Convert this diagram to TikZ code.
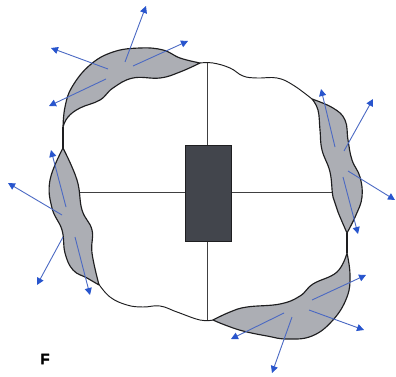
\documentclass[tikz,border=0pt]{standalone}
\usepackage{fontspec}
\setmainfont{Liberation Sans}
\newfontfamily\tagfont[FakeBold=2,BoldFont={Liberation Sans Bold}]{Liberation Sans}
\usetikzlibrary{arrows.meta}
\definecolor{lens}{RGB}{172,174,180}
\definecolor{core}{RGB}{66,69,76}
\definecolor{arrowblue}{RGB}{75,105,195}
\definecolor{tipblue}{RGB}{40,85,205}
\definecolor{edge}{RGB}{30,30,32}
\tikzset{
  x=1pt,y=-1pt,
  outline/.style={draw=edge,line width=0.95pt,line join=round},
  lensshape/.style={draw=edge,line width=1.15pt,line join=round,fill=lens},
  spoke/.style={draw=edge!85,line width=0.9pt},
  flow/.style={draw=arrowblue,line width=0.9pt,-{Triangle[length=7pt,width=7pt,color=tipblue]}},
  corebox/.style={draw=edge,line width=0.9pt,fill=core,minimum width=46pt,minimum height=96pt,inner sep=0pt},
  label/.style={font=\tagfont\fontsize{15}{15}\selectfont,text=black,inner sep=0pt}
}
\begin{document}
\begin{tikzpicture}
\useasboundingbox (0,0) rectangle (396,377);
% white body outline segments
\draw[outline] plot[smooth,tension=0.7] coordinates {(200,63) (213,63) (230,68) (243,76) (257,78) (277,78) (293,85) (312,99)};
\draw[outline] plot[smooth,tension=0.7] coordinates {(98,283) (110,297) (127,305) (143,307) (160,306) (177,312) (200,320) (213,320)};
\draw[lensshape] (63,127) -- (63,148);
\draw[lensshape] (347,233) -- (347,253);
% spokes
\draw[spoke] (207.5,63) -- (207.5,145);
\draw[spoke] (207.5,241) -- (207.5,320);
\draw[spoke] (78,192.5) -- (185,192.5);
\draw[spoke] (231,192.5) -- (333,192.5);
% lenses
\draw[lensshape] plot[smooth,tension=0.7] coordinates {(63,127) (65,107) (72,87) (90,65) (113,52) (140,48) (163,50) (180,58) (200,63)}
  -- plot[smooth,tension=0.7] coordinates {(200,63) (180,72) (160,78) (133,78) (113,88) (100,100) (80,108) (68,117) (63,127)} -- cycle;
\draw[lensshape] plot[smooth,tension=0.7] coordinates {(63,148) (50,180) (52,208) (62,230) (65,253) (73,270) (87,278) (99,285)}
  -- plot[smooth,tension=0.7] coordinates {(99,285) (92,253) (92,230) (82,210) (77,180) (63,148)} -- cycle;
\draw[lensshape] plot[smooth,tension=0.7] coordinates {(312,99) (333,108) (345,120) (348,140) (352,160) (360,177) (362,197) (356,215) (347,233)}
  -- plot[smooth,tension=0.7] coordinates {(347,233) (338,212) (333,197) (330,172) (322,150) (320,130) (318,110) (312,99)} -- cycle;
\draw[lensshape] plot[smooth,tension=0.7] coordinates {(347,253) (350,275) (347,297) (333,320) (312,336) (287,339) (267,336) (243,331) (225,325) (213,320)}
  -- plot[smooth,tension=0.7] coordinates {(213,320) (230,312) (247,307) (280,304) (300,296) (313,284) (337,272) (347,253)} -- cycle;
% core
\node[corebox,anchor=north west] (box) at (185,145) {};
% arrows
\coordinate (a1) at (125,62); \coordinate (a2) at (146,6);
\coordinate (b1) at (108,69); \coordinate (b2) at (51,48);
\coordinate (c1) at (133,66); \coordinate (c2) at (188,41);
\coordinate (d1) at (106,79); \coordinate (d2) at (49,106);
\coordinate (e1) at (335,147); \coordinate (e2) at (321,89);
\coordinate (f1) at (344,151); \coordinate (f2) at (373,99);
\coordinate (g1) at (348,171); \coordinate (g2) at (395,200);
\coordinate (h1) at (343,177); \coordinate (h2) at (358,234);
\coordinate (i1) at (312,300); \coordinate (i2) at (366,275);
\coordinate (j1) at (309,310); \coordinate (j2) at (364,330);
\coordinate (k1) at (292,317); \coordinate (k2) at (272,373);
\coordinate (l1) at (284,313); \coordinate (l2) at (231,339);
\coordinate (m1) at (66,207); \coordinate (m2) at (51,150);
\coordinate (n1) at (62,215); \coordinate (n2) at (8,183);
\coordinate (o1) at (63,237); \coordinate (o2) at (37,285);
\coordinate (p1) at (75,237); \coordinate (p2) at (90,295);
\foreach \q in {a,b,c,d,e,f,g,h,i,j,k,l,m,n,o,p}
  \draw[flow] (\q1) -- (\q2);
\node[label] (tag) at (45,359) {\bfseries F};
\end{tikzpicture}
\end{document}
